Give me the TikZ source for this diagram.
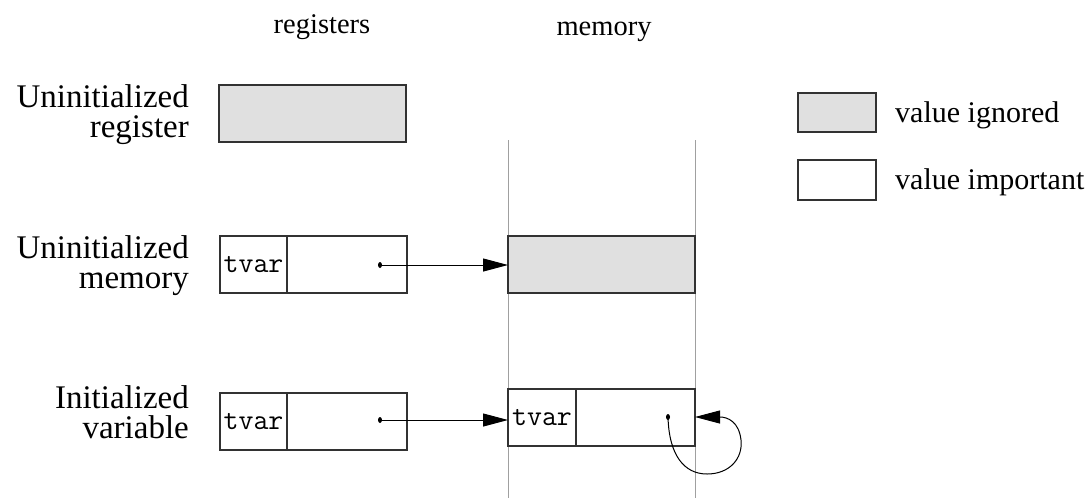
\documentclass[tikz,border=0pt]{standalone}
\usepackage{fontspec}
\setmainfont{Liberation Serif}
\usetikzlibrary{arrows.meta,shapes.geometric}
\definecolor{ignoredfill}{RGB}{224,224,224}
\definecolor{boxline}{RGB}{50,50,50}
\definecolor{memline}{RGB}{160,160,160}
\begin{document}
\begin{tikzpicture}[x=1pt,y=-1pt,
  cell/.style={draw=boxline,line width=1.1pt,minimum height=57pt,inner sep=0pt,outer sep=0pt,anchor=north west},
  ignored/.style={cell,fill=ignoredfill},
  tagcell/.style={cell,minimum width=67pt,font=\fontsize{29}{29}\ttfamily},
  heading/.style={font=\fontsize{28.5}{30}\selectfont,anchor=base,inner sep=0pt},
  rowlabel/.style={font=\fontsize{33}{30}\selectfont,align=right,anchor=base east,inner sep=0pt},
  legendtext/.style={font=\fontsize{30}{30}\selectfont,anchor=base west,inner sep=0pt},
  pointer/.style={line width=1pt,-{Triangle[length=25pt,width=13pt]}},
  dot/.style={fill=black,draw=none,ellipse,minimum width=4pt,minimum height=6pt,inner sep=0pt}
]
\useasboundingbox (0,0) rectangle (1086,499);

% column headings
\node[heading] (hreg) at (322,33) {registers};
\node[heading] (hmem) at (604,35) {memory};

% memory column boundaries
\coordinate (mlt) at (508,140);
\coordinate (mlb) at (508,498);
\coordinate (mrt) at (695,140);
\coordinate (mrb) at (695,498);
\draw[memline,line width=1pt] (mlt) -- (mlb);
\draw[memline,line width=1pt] (mrt) -- (mrb);

% row labels (anchored at the baseline of the second line)
\node[rowlabel] (l1) at (189,137) {Uninitialized\\register};
\node[rowlabel] (l2) at (189,288) {Uninitialized\\memory};
\node[rowlabel] (l3) at (189,438) {Initialized\\variable};

% row 1: an uninitialized register
\node[ignored,minimum width=187pt] (reg1) at (219,85) {};

% row 2: register pointing to uninitialized memory
\node[tagcell] (tag2) at (220,236) {tvar};
\node[cell,minimum width=120pt] (val2) at (287,236) {};
\node[ignored,minimum width=187pt] (mem2) at (508,236) {};
\node[dot] (d2) at (380,265) {};
\draw[pointer] (d2.center) -- (d2.center -| mem2.west);

% row 3: register pointing to an initialized variable
\node[tagcell] (tag3) at (220,393) {tvar};
\node[cell,minimum width=120pt] (val3) at (287,393) {};
\node[tagcell,minimum width=68pt] (mtag3) at (508,389) {tvar};
\node[cell,minimum width=119pt] (mval3) at (576,389) {};
\node[dot] (d3) at (380,420) {};
\draw[pointer] (d3.center) -- (d3.center -| mtag3.west);

% self reference of the variable
\node[dot] (d4) at (668,417) {};
\coordinate (loopbot) at (707,474);
\coordinate (loopright) at (741,440);
\draw[pointer] (d4.center) .. controls (669,455) and (684,474) .. (loopbot)
  .. controls (730,474) and (743,458) .. (loopright)
  .. controls (739,422) and (728,417) .. (d4.center -| mval3.east);

% legend
\node[ignored,minimum width=78pt,minimum height=39pt] (lg1) at (798,93) {};
\node[cell,minimum width=78pt,minimum height=40pt] (lg2) at (798,160) {};
\node[legendtext] (lt1) at (895,122) {value ignored};
\node[legendtext] (lt2) at (895,189) {value important};
\end{tikzpicture}
\end{document}
